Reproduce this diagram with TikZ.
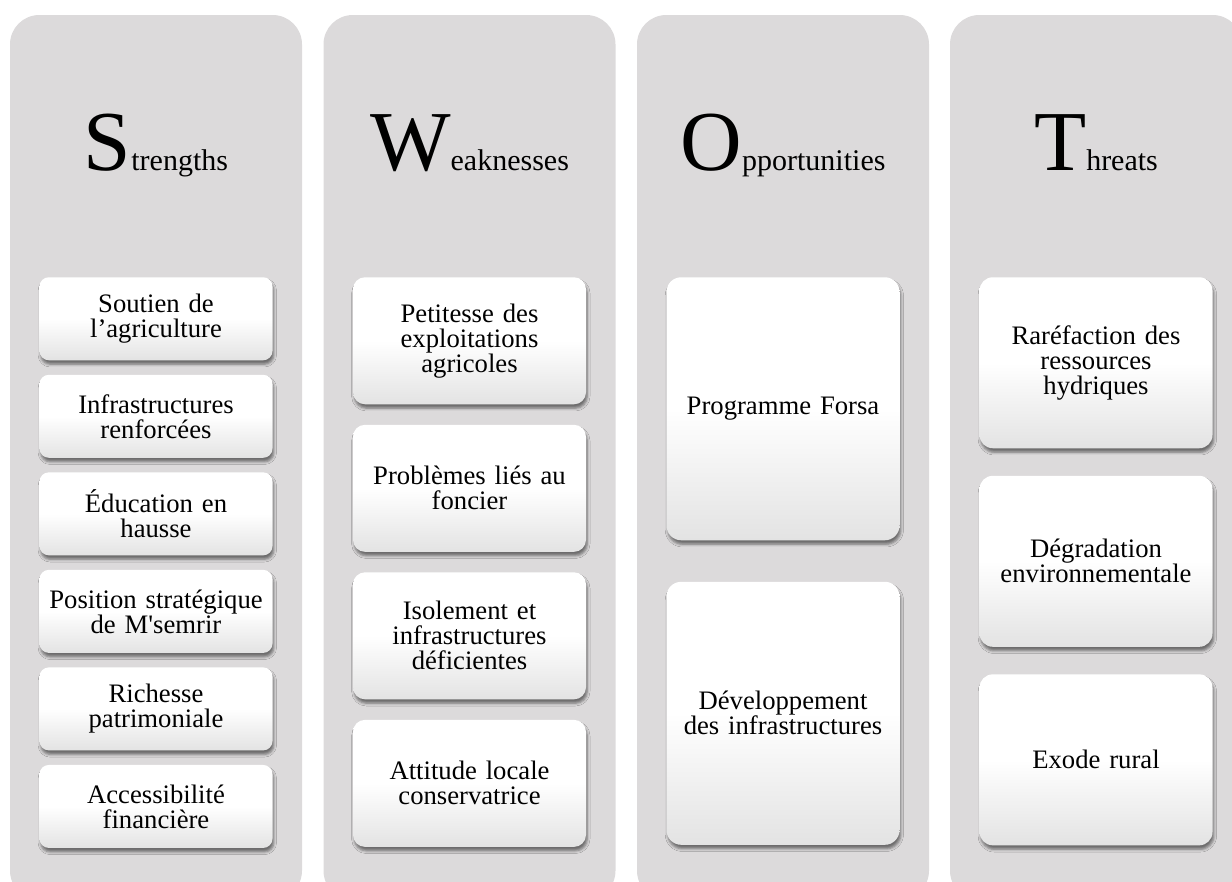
\documentclass[tikz,border=0pt]{standalone}
\usepackage{fontspec}
\setmainfont{Liberation Serif}[Ligatures=TeXOff]
\usetikzlibrary{positioning,shadows.blur}

\definecolor{panelgray}{RGB}{220,218,219}

% big initial letter followed by the rest of the word
\newcommand{\swottitle}[2]{{\fontsize{64}{64}\selectfont #1}{\fontsize{22.5}{27}\selectfont #2}}

\tikzset{
  panel/.style={fill=panelgray, rounded corners=22pt},
  card/.style={rectangle, rounded corners=#1, draw=none,
    top color=white, bottom color=black!11, middle color=white,
    blur shadow={shadow xshift=1pt, shadow yshift=-3pt, shadow blur radius=2pt, shadow opacity=50},
    minimum width=174.75pt, text width=165pt, align=center, inner sep=0pt,
    font=\fontsize{20}{18.75}\selectfont},
  card/.default=7pt
}

\begin{document}
\begin{tikzpicture}[x=0.75pt, y=-0.75pt]
  \useasboundingbox (0,0) rectangle (1232,882);
  \clip (0,0) rectangle (1232,882);

  % Column panels (they run off the lower and right edges)
  \fill[panel] (10,15) rectangle (302,900);
  \fill[panel] (323.5,15) rectangle (615.5,900);
  \fill[panel] (637,15) rectangle (929,900);
  \fill[panel] (950,15) rectangle (1242,900);

  % Titles
  \node[anchor=base] (tS) at (156,170) {\swottitle{S}{trengths}};
  \node[anchor=base] (tW) at (469.5,170) {\swottitle{W}{eaknesses}};
  \node[anchor=base] (tO) at (783,170) {\swottitle{O}{pportunities}};
  \node[anchor=base] (tT) at (1096,170) {\swottitle{T}{hreats}};

  % Strengths
  \begin{scope}[every node/.style={card, minimum height=62.25pt}, node distance=10.5pt]
    \node[anchor=north] (s1) at (156,277) {Soutien de\\l’agriculture};
    \node[below=of s1] (s2) {Infrastructures\\renforcées};
    \node[below=of s2] (s3) {Éducation en\\hausse};
    \node[below=of s3] (s4) {Position stratégique\\de M'semrir};
    \node[below=of s4] (s5) {Richesse\\patrimoniale};
    \node[below=of s5] (s6) {Accessibilité\\financière};
  \end{scope}

  % Weaknesses
  \begin{scope}[every node/.style={card=9pt, minimum height=95.25pt}, node distance=15pt]
    \node[anchor=north] (w1) at (469.5,277) {Petitesse des\\exploitations\\agricoles};
    \node[below=of w1] (w2) {Problèmes liés au\\foncier};
    \node[below=of w2] (w3) {Isolement et\\infrastructures\\déficientes};
    \node[below=of w3] (w4) {Attitude locale\\conservatrice};
  \end{scope}

  % Opportunities
  \begin{scope}[every node/.style={card=11pt, minimum height=197.25pt}, node distance=30.75pt]
    \node[anchor=north] (o1) at (783,277) {Programme Forsa};
    \node[below=of o1] (o2) {Développement\\des infrastructures};
  \end{scope}

  % Threats
  \begin{scope}[every node/.style={card=10pt, minimum height=128.25pt}, node distance=20.25pt]
    \node[anchor=north] (th1) at (1096,277) {Raréfaction des\\ressources\\hydriques};
    \node[below=of th1] (th2) {Dégradation\\environnementale};
    \node[below=of th2] (th3) {Exode rural};
  \end{scope}
\end{tikzpicture}
\end{document}
